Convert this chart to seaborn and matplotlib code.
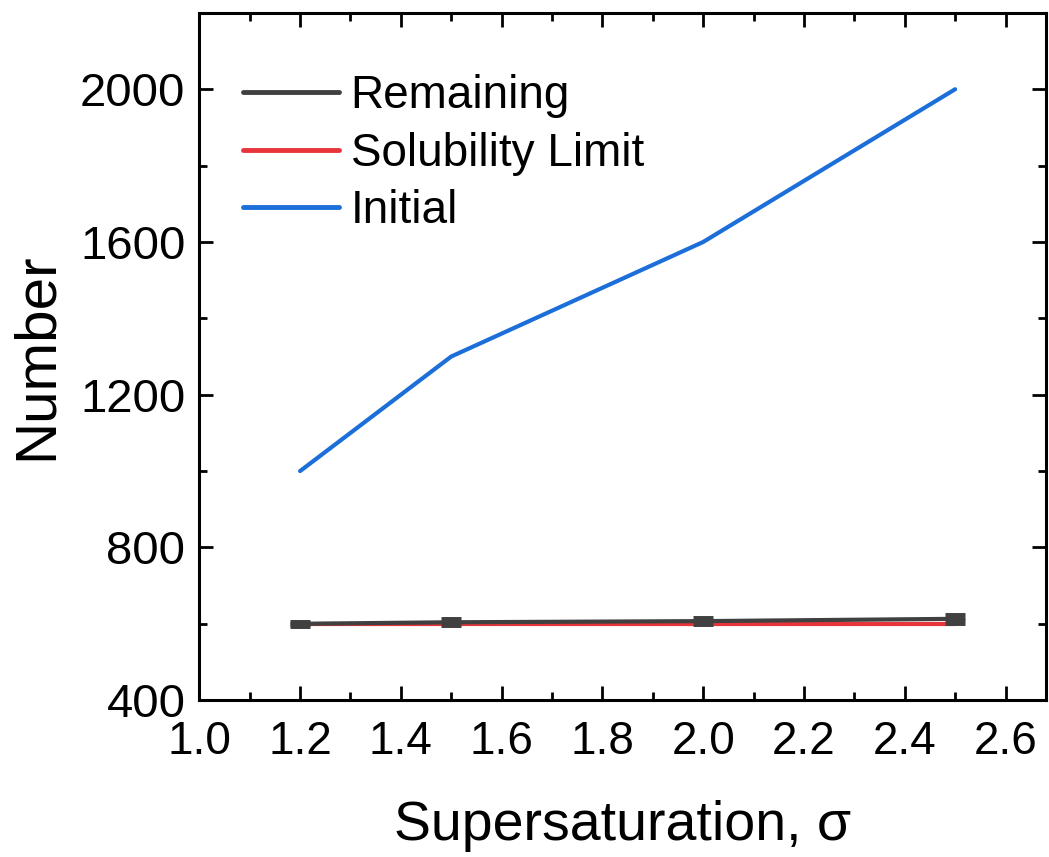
import matplotlib
matplotlib.use("Agg")
import matplotlib.pyplot as plt
import seaborn as sns
import pandas as pd
from matplotlib.ticker import MultipleLocator, FormatStrFormatter

sigma_initial = [1.2, 1.5, 2.0, 2.5]
initial = [1000, 1300, 1600, 2000]
sigma_remaining = [1.2, 1.5, 2.0, 2.5]
remaining = [600, 604, 607, 613]
remaining_err = [3, 5, 6, 7]
sigma_solubility = [1.2, 1.5, 2.0, 2.5]
solubility = [600, 600, 600, 600]

sns.set_theme(style="ticks")
plt.rcParams['font.family'] = ['Liberation Sans', 'DejaVu Sans']
plt.rcParams['text.color'] = 'black'
plt.rcParams['axes.labelcolor'] = 'black'
plt.rcParams['xtick.color'] = 'black'
plt.rcParams['ytick.color'] = 'black'

fig = plt.figure(figsize=(10.49, 8.57), dpi=100)
ax = fig.add_axes([0.19, 0.183, 0.807, 0.802])

c_rem = "#404040"
c_sol = "#e8353b"
c_ini = "#1c6fd8"

df_rem = pd.DataFrame({"x": sigma_remaining, "y": remaining})
df_sol = pd.DataFrame({"x": sigma_solubility, "y": solubility})
df_ini = pd.DataFrame({"x": sigma_initial, "y": initial})

sns.lineplot(data=df_rem, x="x", y="y", ax=ax, color=c_rem, lw=3, label="Remaining", zorder=3)
ax.errorbar(sigma_remaining, remaining, yerr=remaining_err, fmt="none", ecolor=c_rem,
            elinewidth=6, capsize=7, capthick=5, zorder=3)
sns.lineplot(data=df_sol, x="x", y="y", ax=ax, color=c_sol, lw=3, label="Solubility Limit", zorder=2)
sns.lineplot(data=df_ini, x="x", y="y", ax=ax, color=c_ini, lw=3, label="Initial", zorder=2)

ax.set_xlim(1.0, 2.68)
ax.set_ylim(400, 2200)
ax.xaxis.set_major_locator(MultipleLocator(0.2))
ax.xaxis.set_minor_locator(MultipleLocator(0.1))
ax.yaxis.set_minor_locator(MultipleLocator(200))
ax.set_yticks([400, 800, 1200, 1600, 2000])
ax.xaxis.set_major_formatter(FormatStrFormatter("%.1f"))

for s in ax.spines.values():
    s.set_linewidth(2.2)
    s.set_color("black")
    s.set_visible(True)

ax.tick_params(which="both", direction="in", top=True, right=True, width=2, color="black")
ax.tick_params(which="major", length=10)
ax.tick_params(which="minor", length=6)
ax.tick_params(axis="y", labelsize=34, pad=10)
ax.tick_params(axis="x", labelsize=33, pad=14)

ax.set_xlabel("Supersaturation, σ", fontsize=40, labelpad=26)
ax.set_ylabel("Number", fontsize=42, labelpad=12)

leg = ax.legend(loc="upper left", fontsize=33, frameon=False, handlelength=2.1,
                handletextpad=0.25, labelspacing=0.3, borderaxespad=0.0,
                bbox_to_anchor=(0.03, 0.938))
for h in leg.get_lines():
    h.set_linewidth(3.5)

fig.savefig("out.png", dpi=100)
